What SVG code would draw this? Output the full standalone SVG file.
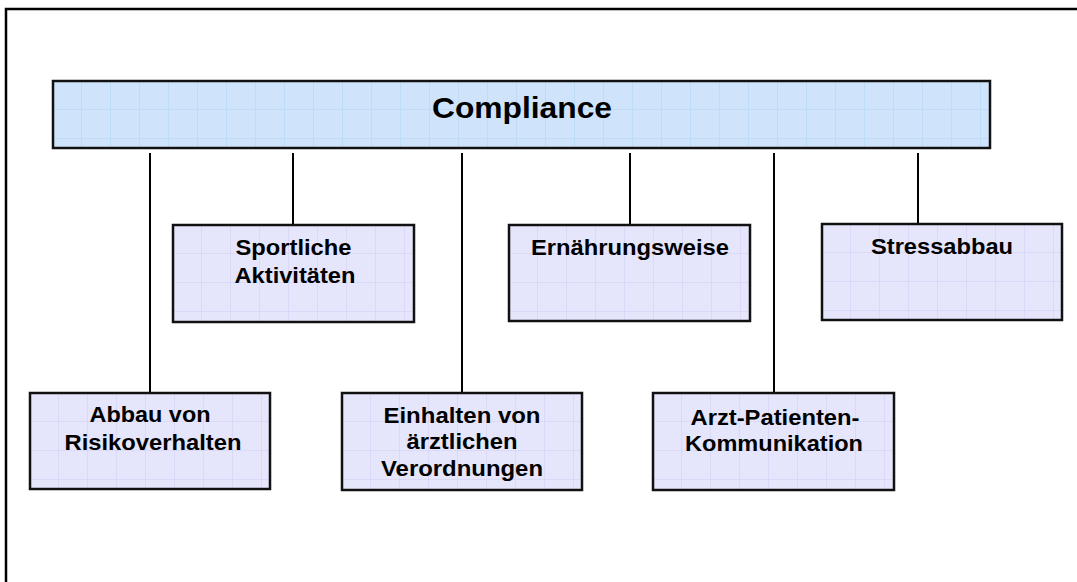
<svg xmlns="http://www.w3.org/2000/svg" width="1077" height="582" viewBox="0 0 1077 582">
<style>
.frame{stroke:#000;stroke-width:2.5;fill:none}
.top{fill:url(#gridBlue);stroke:#111;stroke-width:2.5}
.box{fill:url(#gridLav);stroke:#111;stroke-width:2.5}
.conn{stroke:#000;stroke-width:2;fill:none}
.t{font-family:"Liberation Sans",Arial,sans-serif;font-weight:bold;font-size:22px;fill:#000;text-anchor:middle}
.title{font-family:"Liberation Sans",Arial,sans-serif;font-weight:bold;font-size:30px;fill:#000;text-anchor:middle}
</style>
<defs>
<pattern id="gridBlue" patternUnits="userSpaceOnUse" x="0" y="0" width="29" height="29">
<rect width="29" height="29" fill="#cfe4fb"/>
<path d="M29 0V29M0 29H29" stroke="#aed2f6" stroke-width="1"/>
</pattern>
<pattern id="gridLav" patternUnits="userSpaceOnUse" x="0" y="0" width="29" height="29">
<rect width="29" height="29" fill="#e5e5fb"/>
<path d="M29 0V29M0 29H29" stroke="#d0d0f6" stroke-width="1"/>
</pattern>
</defs>
<rect width="1077" height="582" fill="#fff"/>
<path class="frame" d="M6 590V9H1090"/>
<g id="connectors">
<line class="conn" x1="150" y1="153" x2="150" y2="393"/>
<line class="conn" x1="293" y1="153" x2="293" y2="225"/>
<line class="conn" x1="462" y1="153" x2="462" y2="393"/>
<line class="conn" x1="630" y1="153" x2="630" y2="225"/>
<line class="conn" x1="774" y1="153" x2="774" y2="393"/>
<line class="conn" x1="918" y1="153" x2="918" y2="224"/>
</g>
<g id="compliance" transform="translate(53,81)">
<rect class="top" x="0" y="0" width="937" height="67"/>
<text class="title" x="469" y="37" textLength="180" lengthAdjust="spacingAndGlyphs">Compliance</text>
</g>
<g id="sportliche" transform="translate(173,225)">
<rect class="box" x="0" y="0" width="241" height="97"/>
<text class="t" x="120.5" y="30" textLength="116" lengthAdjust="spacingAndGlyphs">Sportliche</text>
<text class="t" x="122" y="58" textLength="121" lengthAdjust="spacingAndGlyphs">Aktivitäten</text>
</g>
<g id="ernaehrung" transform="translate(509,225)">
<rect class="box" x="0" y="0" width="241" height="96"/>
<text class="t" x="121" y="30" textLength="198" lengthAdjust="spacingAndGlyphs">Ernährungsweise</text>
</g>
<g id="stressabbau" transform="translate(822,224)">
<rect class="box" x="0" y="0" width="240" height="96"/>
<text class="t" x="120" y="30" textLength="142" lengthAdjust="spacingAndGlyphs">Stressabbau</text>
</g>
<g id="abbau" transform="translate(30,393)">
<rect class="box" x="0" y="0" width="240" height="96"/>
<text class="t" x="120" y="29" textLength="121" lengthAdjust="spacingAndGlyphs">Abbau von</text>
<text class="t" x="123" y="57" textLength="177" lengthAdjust="spacingAndGlyphs">Risikoverhalten</text>
</g>
<g id="einhalten" transform="translate(342,393)">
<rect class="box" x="0" y="0" width="240" height="97"/>
<text class="t" x="120" y="30" textLength="157" lengthAdjust="spacingAndGlyphs">Einhalten von</text>
<text class="t" x="120" y="56" textLength="111" lengthAdjust="spacingAndGlyphs">ärztlichen</text>
<text class="t" x="120" y="83" textLength="162" lengthAdjust="spacingAndGlyphs">Verordnungen</text>
</g>
<g id="arzt" transform="translate(653,393)">
<rect class="box" x="0" y="0" width="241" height="97"/>
<text class="t" x="122" y="32" textLength="169" lengthAdjust="spacingAndGlyphs">Arzt-Patienten-</text>
<text class="t" x="121" y="58" textLength="178" lengthAdjust="spacingAndGlyphs">Kommunikation</text>
</g>
</svg>
